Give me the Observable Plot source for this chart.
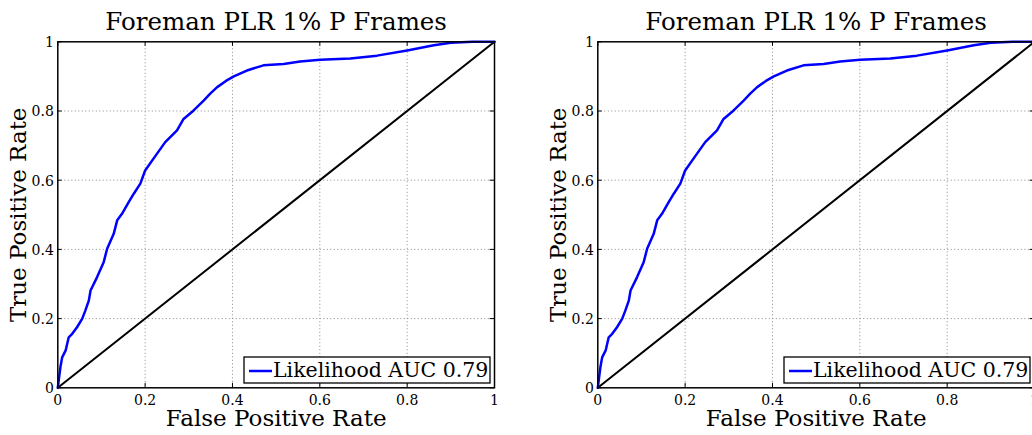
<!DOCTYPE html>
<html>
<head>
<meta charset="utf-8">
<script src="https://cdn.jsdelivr.net/npm/d3@7"></script>
<script src="https://cdn.jsdelivr.net/npm/@observablehq/plot@0.6"></script>
<style>
  html, body { margin: 0; padding: 0; background: #fff; overflow: hidden; }
  #wrap { position: relative; width: 1032px; height: 435px; overflow: hidden; }
  #wrap > svg { position: absolute; top: 0; }
  #wrap svg text { font-family: "DejaVu Serif", "Liberation Serif", serif; }
</style>
</head>
<body>
<div id="wrap"></div>
<script>
// ---- data ----
const fpr = [0, 0.003, 0.006, 0.010, 0.018, 0.025, 0.033, 0.044, 0.056, 0.063, 0.071, 0.075, 0.090, 0.105, 0.113, 0.128, 0.136, 0.147, 0.162, 0.174, 0.189, 0.200, 0.224, 0.246, 0.273, 0.288, 0.307, 0.334, 0.349, 0.365, 0.385, 0.403, 0.433, 0.471, 0.517, 0.555, 0.601, 0.670, 0.731, 0.800, 0.861, 0.900, 0.950, 1];
const tpr = [0, 0.030, 0.060, 0.088, 0.108, 0.146, 0.156, 0.175, 0.200, 0.223, 0.252, 0.281, 0.320, 0.363, 0.402, 0.445, 0.484, 0.503, 0.536, 0.561, 0.590, 0.628, 0.671, 0.710, 0.744, 0.777, 0.797, 0.830, 0.850, 0.869, 0.887, 0.900, 0.917, 0.932, 0.936, 0.943, 0.948, 0.952, 0.960, 0.975, 0.990, 0.997, 1, 1];
const diagX = [0, 1];
const diagY = [0, 1];
const xTicks = [0, 0.2, 0.4, 0.6, 0.8, 1];
const xTickLabels = ["0", "0.2", "0.4", "0.6", "0.8", "1"];
const yTicks = [0, 0.2, 0.4, 0.6, 0.8, 1];
const yTickLabels = ["0", "0.2", "0.4", "0.6", "0.8", "1"];
const gridTicks = [0.2, 0.4, 0.6, 0.8];
const titleText = "Foreman PLR 1% P Frames";
const xLabel = "False Positive Rate";
const yLabel = "True Positive Rate";
const legendLabel = "Likelihood AUC 0.79";
const panelOffsets = [0, 540.4];

const roc = fpr.map((x, i) => ({x, y: tpr[i]}));
const diag = diagX.map((x, i) => ({x, y: diagY[i]}));
const FONT = "'DejaVu Serif', 'Liberation Serif', serif";

function panel() {
  const svg = Plot.plot({
    width: 540,
    height: 435,
    marginTop: 41.3,
    marginLeft: 57.3,
    marginRight: 46,
    marginBottom: 47.7,
    style: {fontFamily: FONT, fontSize: "14px", color: "#000", background: "transparent"},
    x: {domain: [0, 1]},
    y: {domain: [0, 1]},
    marks: [
      Plot.gridX(gridTicks, {stroke: "#8a8a8a", strokeOpacity: 1, strokeWidth: 1, strokeDasharray: "1,2.5"}),
      Plot.gridY(gridTicks, {stroke: "#8a8a8a", strokeOpacity: 1, strokeWidth: 1, strokeDasharray: "1,2.5"}),
      Plot.ruleX(xTicks, {x: d => d, y1: 0, y2: 0.013, stroke: "#000", strokeWidth: 1}),
      Plot.ruleX(xTicks, {x: d => d, y1: 0.987, y2: 1, stroke: "#000", strokeWidth: 1}),
      Plot.ruleY(yTicks, {y: d => d, x1: 0, x2: 0.01, stroke: "#000", strokeWidth: 1}),
      Plot.ruleY(yTicks, {y: d => d, x1: 0.99, x2: 1, stroke: "#000", strokeWidth: 1}),
      Plot.axisX(xTicks, {anchor: "bottom", tickSize: 0, tickPadding: 7, fontSize: 14, label: null,
        tickFormat: d => xTickLabels[xTicks.indexOf(d)]}),
      Plot.axisY(yTicks, {anchor: "left", tickSize: 0, tickPadding: 4, fontSize: 14, label: null, dy: 1,
        tickFormat: d => yTickLabels[yTicks.indexOf(d)]}),
      Plot.line(diag, {x: "x", y: "y", stroke: "#000", strokeWidth: 2}),
      Plot.line(roc, {x: "x", y: "y", stroke: "#0000ff", strokeWidth: 2.5}),
      Plot.frame({stroke: "#000", strokeWidth: 1.5}),
      Plot.text([titleText], {text: d => d, frameAnchor: "top", textAnchor: "middle", lineAnchor: "bottom", dy: -12, fontSize: 24.5, fill: "#000"}),
      Plot.text([xLabel], {text: d => d, frameAnchor: "bottom", textAnchor: "middle", lineAnchor: "bottom", dy: 37.7, fontSize: 23, fill: "#000"}),
      Plot.text([yLabel], {text: d => d, frameAnchor: "left", textAnchor: "middle", lineAnchor: "middle", rotate: -90, dx: -39, fontSize: 23, fill: "#000"})
    ]
  });
  // legend box, positioned from the plot's own scales
  const sx = svg.scale("x"), sy = svg.scale("y");
  const right = sx.apply(1), bottom = sy.apply(0);
  const g = d3.select(svg).append("g");
  const bx = right - 250, by = bottom - 30.3, bw = 246, bh = 26;
  g.append("rect").attr("x", bx).attr("y", by).attr("width", bw).attr("height", bh)
    .attr("fill", "#fff").attr("stroke", "#000").attr("stroke-width", 1.3);
  g.append("line").attr("x1", bx + 5).attr("x2", bx + 28).attr("y1", by + 14).attr("y2", by + 14)
    .attr("stroke", "#0000ff").attr("stroke-width", 2.5);
  g.append("text").attr("x", bx + 29).attr("y", by + 19.5).attr("font-size", 20.5)
    .attr("text-anchor", "start").attr("font-family", FONT).attr("fill", "#000").text(legendLabel);
  return svg;
}

const wrap = document.getElementById("wrap");
for (const off of panelOffsets) {
  const svg = panel();
  svg.style.left = off + "px";
  wrap.appendChild(svg);
}
</script>
</body>
</html>
